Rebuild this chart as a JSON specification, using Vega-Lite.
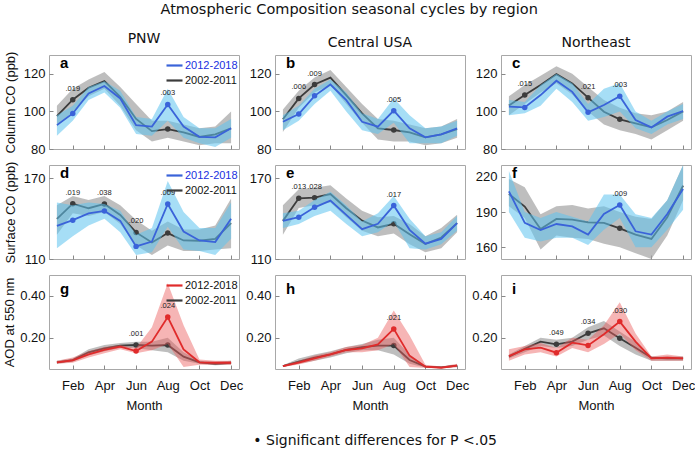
{
  "$schema": "https://vega.github.io/schema/vega-lite/v6.json",
  "padding": {"left": 3, "top": 2, "right": 0, "bottom": 0},
  "title": {"text": "Atmospheric Composition seasonal cycles by region", "font": "DejaVu Sans", "fontSize": 14.5, "fontWeight": "normal", "anchor": "middle", "offset": 14, "color": "#111"},
  "datasets": {
    "d": [
      {"g":"a","m":1,"ov":97.5,"ol":92,"oh":103,"nv":92.7,"nl":87,"nh":98},
      {"g":"a","m":2,"ov":106.2,"ol":100,"oh":112,"nv":98.9,"nl":95,"nh":103,"p":".019"},
      {"g":"a","m":3,"ov":112.6,"ol":108,"oh":117,"nv":109.6,"nl":106,"nh":113},
      {"g":"a","m":4,"ov":116.1,"ol":112,"oh":121,"nv":113.5,"nl":110,"nh":116},
      {"g":"a","m":5,"ov":107.8,"ol":103,"oh":113,"nv":106.9,"nl":102,"nh":111},
      {"g":"a","m":6,"ov":96,"ol":90,"oh":104,"nv":92.7,"nl":88,"nh":97},
      {"g":"a","m":7,"ov":89.5,"ol":84,"oh":95,"nv":91.9,"nl":87,"nh":96},
      {"g":"a","m":8,"ov":90.6,"ol":86,"oh":95,"nv":103.7,"nl":95,"nh":112,"p":".003"},
      {"g":"a","m":9,"ov":88.8,"ol":84,"oh":93,"nv":91.9,"nl":86,"nh":97},
      {"g":"a","m":10,"ov":86.4,"ol":82,"oh":91,"nv":86.5,"nl":83,"nh":91},
      {"g":"a","m":11,"ov":87.8,"ol":83,"oh":92,"nv":86.2,"nl":81,"nh":91},
      {"g":"a","m":12,"ov":91,"ol":83,"oh":100,"nv":91,"nl":86,"nh":96},
      {"g":"b","m":1,"ov":95.8,"ol":89,"oh":101,"nv":94.5,"nl":90,"nh":98},
      {"g":"b","m":2,"ov":106.9,"ol":102,"oh":111,"nv":98.6,"nl":95,"nh":103,"p":".006"},
      {"g":"b","m":3,"ov":114.3,"ol":110,"oh":118,"nv":108.3,"nl":104,"nh":112,"p":".009"},
      {"g":"b","m":4,"ov":118,"ol":114,"oh":122,"nv":114.3,"nl":111,"nh":117},
      {"g":"b","m":5,"ov":108.7,"ol":104,"oh":113,"nv":106,"nl":100,"nh":110},
      {"g":"b","m":6,"ov":99,"ol":94,"oh":104,"nv":94.5,"nl":90,"nh":99},
      {"g":"b","m":7,"ov":91,"ol":85,"oh":96,"nv":91.9,"nl":88,"nh":96},
      {"g":"b","m":8,"ov":90.1,"ol":84,"oh":95,"nv":100.4,"nl":94,"nh":107,"p":".005"},
      {"g":"b","m":9,"ov":88.8,"ol":84,"oh":93,"nv":91,"nl":83,"nh":98},
      {"g":"b","m":10,"ov":86.2,"ol":82,"oh":91,"nv":86.2,"nl":83,"nh":91},
      {"g":"b","m":11,"ov":87.8,"ol":83,"oh":92,"nv":87.8,"nl":83,"nh":92},
      {"g":"b","m":12,"ov":90.6,"ol":86,"oh":96,"nv":91,"nl":87,"nh":95},
      {"g":"c","m":1,"ov":103.2,"ol":98,"oh":108,"nv":102.5,"nl":98,"nh":106},
      {"g":"c","m":2,"ov":108.7,"ol":104,"oh":114,"nv":102.1,"nl":99,"nh":105,"p":".015"},
      {"g":"c","m":3,"ov":114,"ol":110,"oh":119,"nv":108.7,"nl":103,"nh":114},
      {"g":"c","m":4,"ov":119.8,"ol":115,"oh":124,"nv":116.3,"nl":112,"nh":120},
      {"g":"c","m":5,"ov":114.9,"ol":109,"oh":120,"nv":110.4,"nl":105,"nh":115},
      {"g":"c","m":6,"ov":107.3,"ol":100,"oh":113,"nv":99.5,"nl":95,"nh":104,"p":".021"},
      {"g":"c","m":7,"ov":99.8,"ol":93,"oh":106,"nv":103.4,"nl":97,"nh":112},
      {"g":"c","m":8,"ov":95.8,"ol":90,"oh":102,"nv":108.1,"nl":100,"nh":115,"p":".003"},
      {"g":"c","m":9,"ov":93.6,"ol":88,"oh":99,"nv":95.4,"nl":91,"nh":100},
      {"g":"c","m":10,"ov":91.5,"ol":85,"oh":98,"nv":91.5,"nl":88,"nh":95},
      {"g":"c","m":11,"ov":95.4,"ol":90,"oh":100,"nv":97.2,"nl":93,"nh":100},
      {"g":"c","m":12,"ov":100,"ol":95,"oh":105,"nv":100.2,"nl":96,"nh":104},
      {"g":"d","m":1,"ov":139.9,"ol":128,"oh":150,"nv":134.7,"nl":118,"nh":152},
      {"g":"d","m":2,"ov":151.2,"ol":144,"oh":157,"nv":138.9,"nl":127,"nh":150,"p":".019"},
      {"g":"d","m":3,"ov":147.8,"ol":142,"oh":154,"nv":144,"nl":135,"nh":152},
      {"g":"d","m":4,"ov":151,"ol":145,"oh":157,"nv":145.8,"nl":140,"nh":151,"p":".038"},
      {"g":"d","m":5,"ov":142.8,"ol":136,"oh":150,"nv":138.4,"nl":130,"nh":146},
      {"g":"d","m":6,"ov":129.8,"ol":120,"oh":139,"nv":119.4,"nl":113,"nh":128,"p":".020"},
      {"g":"d","m":7,"ov":122.3,"ol":113,"oh":131,"nv":123,"nl":115,"nh":133},
      {"g":"d","m":8,"ov":129.3,"ol":120,"oh":138,"nv":151,"nl":134,"nh":168,"p":".009"},
      {"g":"d","m":9,"ov":123.8,"ol":116,"oh":132,"nv":130.5,"nl":117,"nh":145},
      {"g":"d","m":10,"ov":123.6,"ol":116,"oh":132,"nv":123.8,"nl":116,"nh":133},
      {"g":"d","m":11,"ov":125,"ol":117,"oh":135,"nv":122.6,"nl":113,"nh":133},
      {"g":"d","m":12,"ov":136.7,"ol":118,"oh":155,"nv":139.9,"nl":125,"nh":152},
      {"g":"e","m":1,"ov":138.4,"ol":128,"oh":150,"nv":138.4,"nl":133,"nh":144},
      {"g":"e","m":2,"ov":155.2,"ol":148,"oh":162,"nv":141.1,"nl":136,"nh":146,"p":".013"},
      {"g":"e","m":3,"ov":155.7,"ol":150,"oh":163,"nv":148.5,"nl":142,"nh":154,"p":".028"},
      {"g":"e","m":4,"ov":158.4,"ol":152,"oh":165,"nv":153.5,"nl":146,"nh":160},
      {"g":"e","m":5,"ov":147.8,"ol":141,"oh":155,"nv":142.8,"nl":136,"nh":150},
      {"g":"e","m":6,"ov":138.6,"ol":131,"oh":146,"nv":132.2,"nl":127,"nh":138},
      {"g":"e","m":7,"ov":133.5,"ol":127,"oh":141,"nv":136.2,"nl":130,"nh":144},
      {"g":"e","m":8,"ov":136.2,"ol":129,"oh":142,"nv":149.8,"nl":138,"nh":157,"p":".017"},
      {"g":"e","m":9,"ov":128.5,"ol":121,"oh":136,"nv":131.7,"nl":118,"nh":140},
      {"g":"e","m":10,"ov":121.1,"ol":115,"oh":127,"nv":121.4,"nl":117,"nh":127},
      {"g":"e","m":11,"ov":126,"ol":118,"oh":133,"nv":125,"nl":121,"nh":130},
      {"g":"e","m":12,"ov":136.7,"ol":130,"oh":143,"nv":136.7,"nl":131,"nh":142},
      {"g":"f","m":1,"ov":205.3,"ol":195,"oh":218,"nv":207.6,"nl":190,"nh":225},
      {"g":"f","m":2,"ov":194.6,"ol":185,"oh":211,"nv":180.7,"nl":168,"nh":190},
      {"g":"f","m":3,"ov":175.6,"ol":158,"oh":188,"nv":174.7,"nl":165,"nh":185},
      {"g":"f","m":4,"ov":184.1,"ol":170,"oh":195,"nv":179.8,"nl":168,"nh":190},
      {"g":"f","m":5,"ov":183.5,"ol":168,"oh":196,"nv":177.8,"nl":168,"nh":186},
      {"g":"f","m":6,"ov":181.2,"ol":167,"oh":193,"nv":170.8,"nl":162,"nh":182},
      {"g":"f","m":7,"ov":180.7,"ol":163,"oh":195,"nv":188.3,"nl":175,"nh":205},
      {"g":"f","m":8,"ov":176.1,"ol":160,"oh":190,"nv":196,"nl":185,"nh":205,"p":".009"},
      {"g":"f","m":9,"ov":170.8,"ol":155,"oh":186,"nv":173.6,"nl":160,"nh":188},
      {"g":"f","m":10,"ov":167.1,"ol":150,"oh":184,"nv":170.8,"nl":160,"nh":185},
      {"g":"f","m":11,"ov":185.5,"ol":170,"oh":200,"nv":188.3,"nl":175,"nh":200},
      {"g":"f","m":12,"ov":212.4,"ol":200,"oh":230,"nv":209.6,"nl":192,"nh":230},
      {"g":"g","m":1,"ov":0.082,"ol":0.075,"oh":0.09,"nv":0.082,"nl":0.075,"nh":0.09},
      {"g":"g","m":2,"ov":0.093,"ol":0.085,"oh":0.1,"nv":0.091,"nl":0.08,"nh":0.105},
      {"g":"g","m":3,"ov":0.13,"ol":0.115,"oh":0.145,"nv":0.12,"nl":0.105,"nh":0.135},
      {"g":"g","m":4,"ov":0.149,"ol":0.135,"oh":0.165,"nv":0.141,"nl":0.125,"nh":0.155},
      {"g":"g","m":5,"ov":0.162,"ol":0.15,"oh":0.175,"nv":0.157,"nl":0.145,"nh":0.165},
      {"g":"g","m":6,"ov":0.165,"ol":0.15,"oh":0.18,"nv":0.136,"nl":0.125,"nh":0.15,"p":".001"},
      {"g":"g","m":7,"ov":0.162,"ol":0.14,"oh":0.18,"nv":0.181,"nl":0.14,"nh":0.25},
      {"g":"g","m":8,"ov":0.165,"ol":0.13,"oh":0.2,"nv":0.299,"nl":0.17,"nh":0.46,"p":".024"},
      {"g":"g","m":9,"ov":0.109,"ol":0.09,"oh":0.13,"nv":0.144,"nl":0.06,"nh":0.26},
      {"g":"g","m":10,"ov":0.082,"ol":0.075,"oh":0.09,"nv":0.082,"nl":0.07,"nh":0.095},
      {"g":"g","m":11,"ov":0.075,"ol":0.068,"oh":0.085,"nv":0.08,"nl":0.07,"nh":0.09},
      {"g":"g","m":12,"ov":0.08,"ol":0.072,"oh":0.09,"nv":0.08,"nl":0.07,"nh":0.09},
      {"g":"h","m":1,"ov":0.064,"ol":0.06,"oh":0.068,"nv":0.064,"nl":0.06,"nh":0.068},
      {"g":"h","m":2,"ov":0.085,"ol":0.075,"oh":0.1,"nv":0.08,"nl":0.072,"nh":0.09},
      {"g":"h","m":3,"ov":0.104,"ol":0.09,"oh":0.12,"nv":0.101,"nl":0.09,"nh":0.115},
      {"g":"h","m":4,"ov":0.12,"ol":0.105,"oh":0.135,"nv":0.12,"nl":0.11,"nh":0.13},
      {"g":"h","m":5,"ov":0.141,"ol":0.125,"oh":0.155,"nv":0.141,"nl":0.13,"nh":0.155},
      {"g":"h","m":6,"ov":0.155,"ol":0.14,"oh":0.17,"nv":0.149,"nl":0.13,"nh":0.165},
      {"g":"h","m":7,"ov":0.162,"ol":0.14,"oh":0.19,"nv":0.168,"nl":0.14,"nh":0.2},
      {"g":"h","m":8,"ov":0.162,"ol":0.12,"oh":0.2,"nv":0.242,"nl":0.17,"nh":0.33,"p":".021"},
      {"g":"h","m":9,"ov":0.093,"ol":0.075,"oh":0.12,"nv":0.114,"nl":0.06,"nh":0.21},
      {"g":"h","m":10,"ov":0.061,"ol":0.057,"oh":0.067,"nv":0.061,"nl":0.055,"nh":0.07},
      {"g":"h","m":11,"ov":0.058,"ol":0.055,"oh":0.062,"nv":0.056,"nl":0.053,"nh":0.062},
      {"g":"h","m":12,"ov":0.066,"ol":0.06,"oh":0.072,"nv":0.066,"nl":0.058,"nh":0.075},
      {"g":"i","m":1,"ov":0.109,"ol":0.1,"oh":0.12,"nv":0.112,"nl":0.09,"nh":0.145},
      {"g":"i","m":2,"ov":0.147,"ol":0.13,"oh":0.16,"nv":0.144,"nl":0.12,"nh":0.16},
      {"g":"i","m":3,"ov":0.181,"ol":0.16,"oh":0.2,"nv":0.152,"nl":0.13,"nh":0.175},
      {"g":"i","m":4,"ov":0.168,"ol":0.15,"oh":0.19,"nv":0.128,"nl":0.11,"nh":0.15,"p":".049"},
      {"g":"i","m":5,"ov":0.181,"ol":0.16,"oh":0.2,"nv":0.176,"nl":0.15,"nh":0.2},
      {"g":"i","m":6,"ov":0.221,"ol":0.19,"oh":0.25,"nv":0.163,"nl":0.13,"nh":0.19,"p":".034"},
      {"g":"i","m":7,"ov":0.245,"ol":0.21,"oh":0.28,"nv":0.216,"nl":0.17,"nh":0.26},
      {"g":"i","m":8,"ov":0.197,"ol":0.16,"oh":0.23,"nv":0.277,"nl":0.22,"nh":0.37,"p":".030"},
      {"g":"i","m":9,"ov":0.152,"ol":0.12,"oh":0.18,"nv":0.181,"nl":0.14,"nh":0.22},
      {"g":"i","m":10,"ov":0.104,"ol":0.09,"oh":0.11,"nv":0.101,"nl":0.09,"nh":0.11},
      {"g":"i","m":11,"ov":0.101,"ol":0.09,"oh":0.11,"nv":0.104,"nl":0.09,"nh":0.12},
      {"g":"i","m":12,"ov":0.101,"ol":0.09,"oh":0.11,"nv":0.101,"nl":0.09,"nh":0.11}
    ]
  },
  "vconcat": [
    {
      "title": {"text": "• Significant differences for P <.05", "orient": "bottom", "anchor": "middle", "font": "DejaVu Sans", "fontSize": 14, "fontWeight": "normal", "offset": 21, "dx": 26, "color": "#111"},
      "columns": 3,
      "spacing": {"row": 16, "column": 36},
      "bounds": "flush",
      "resolve": {"scale": {"x": "independent", "y": "independent", "color": "independent"}, "axis": {"x": "independent", "y": "independent"}, "legend": {"color": "independent"}},
      "concat": [
        {
          "width": 190, "height": 94,
          "title": {"text": "PNW", "offset": 5},
          "data": {"name": "d"},
          "transform": [{"filter": "datum.g=='a'"}],
          "encoding": {"x": {"field": "m", "type": "quantitative", "scale": {"domain": [0.5, 12.5], "nice": false, "zero": false}, "axis": {"values": [2,4,6,8,10,12], "labels": false, "title": null}}},
          "layer": [
            {"mark": {"type": "area", "color": "#a3a3a3", "opacity": 0.7, "clip": true}, "encoding": {"y": {"field": "ol", "type": "quantitative", "scale": {"domain": [80, 130], "nice": false, "zero": false}, "axis": {"values": [80,100,120], "title": "Column CO (ppb)"}}, "y2": {"field": "oh"}}},
            {"mark": {"type": "line", "strokeWidth": 1.8, "clip": true}, "encoding": {"y": {"field": "ov", "type": "quantitative"}, "color": {"datum": "2002-2011", "type": "nominal", "scale": {"domain": ["2012-2018", "2002-2011"], "range": ["#3a63d9", "#3c3c3c"]}, "legend": {"labelColor": {"expr": "datum.label == '2012-2018' ? '#2030e0' : '#111111'"}}}}},
            {"transform": [{"filter": "datum.p"}], "mark": {"type": "circle", "size": 30, "color": "#3c3c3c", "opacity": 1}, "encoding": {"y": {"field": "ov", "type": "quantitative"}}},
            {"mark": {"type": "area", "color": "#5cc2ee", "opacity": 0.55, "clip": true}, "encoding": {"y": {"field": "nl", "type": "quantitative"}, "y2": {"field": "nh"}}},
            {"mark": {"type": "line", "strokeWidth": 1.8, "clip": true}, "encoding": {"y": {"field": "nv", "type": "quantitative"}, "color": {"datum": "2012-2018", "type": "nominal"}}},
            {"transform": [{"filter": "datum.p"}], "mark": {"type": "circle", "size": 30, "color": "#3a63d9", "opacity": 1}, "encoding": {"y": {"field": "nv", "type": "quantitative"}}},
            {"transform": [{"filter": "datum.p"}, {"fold": ["ov", "nv"]}, {"aggregate": [{"op": "max", "field": "value", "as": "top"}], "groupby": ["m", "p"]}], "mark": {"type": "text", "dy": -11, "fontSize": 7.5, "font": "Liberation Sans", "color": "#222"}, "encoding": {"y": {"field": "top", "type": "quantitative"}, "text": {"field": "p"}}},
            {"transform": [{"filter": "datum.m == 1"}], "mark": {"type": "text", "text": "a", "align": "left", "baseline": "alphabetic", "dx": 3, "dy": 13, "fontSize": 15, "fontWeight": "bold", "font": "Liberation Sans", "color": "#000"}, "encoding": {"x": {"field": "m", "type": "quantitative"}, "y": {"datum": 130}}}
          ]
        },
        {
          "width": 190, "height": 94,
          "title": {"text": "Central USA", "offset": 5},
          "data": {"name": "d"},
          "transform": [{"filter": "datum.g=='b'"}],
          "encoding": {"x": {"field": "m", "type": "quantitative", "scale": {"domain": [0.5, 12.5], "nice": false, "zero": false}, "axis": {"values": [2,4,6,8,10,12], "labels": false, "title": null}}},
          "layer": [
            {"mark": {"type": "area", "color": "#a3a3a3", "opacity": 0.7, "clip": true}, "encoding": {"y": {"field": "ol", "type": "quantitative", "scale": {"domain": [80, 130], "nice": false, "zero": false}, "axis": {"values": [80,100,120], "title": null}}, "y2": {"field": "oh"}}},
            {"mark": {"type": "line", "strokeWidth": 1.8, "clip": true}, "encoding": {"y": {"field": "ov", "type": "quantitative"}, "color": {"datum": "2002-2011", "type": "nominal", "scale": {"domain": ["2012-2018", "2002-2011"], "range": ["#3a63d9", "#3c3c3c"]}, "legend": null}}},
            {"transform": [{"filter": "datum.p"}], "mark": {"type": "circle", "size": 30, "color": "#3c3c3c", "opacity": 1}, "encoding": {"y": {"field": "ov", "type": "quantitative"}}},
            {"mark": {"type": "area", "color": "#5cc2ee", "opacity": 0.55, "clip": true}, "encoding": {"y": {"field": "nl", "type": "quantitative"}, "y2": {"field": "nh"}}},
            {"mark": {"type": "line", "strokeWidth": 1.8, "clip": true}, "encoding": {"y": {"field": "nv", "type": "quantitative"}, "color": {"datum": "2012-2018", "type": "nominal", "legend": null}}},
            {"transform": [{"filter": "datum.p"}], "mark": {"type": "circle", "size": 30, "color": "#3a63d9", "opacity": 1}, "encoding": {"y": {"field": "nv", "type": "quantitative"}}},
            {"transform": [{"filter": "datum.p"}, {"fold": ["ov", "nv"]}, {"aggregate": [{"op": "max", "field": "value", "as": "top"}], "groupby": ["m", "p"]}], "mark": {"type": "text", "dy": -11, "fontSize": 7.5, "font": "Liberation Sans", "color": "#222"}, "encoding": {"y": {"field": "top", "type": "quantitative"}, "text": {"field": "p"}}},
            {"transform": [{"filter": "datum.m == 1"}], "mark": {"type": "text", "text": "b", "align": "left", "baseline": "alphabetic", "dx": 3, "dy": 13, "fontSize": 15, "fontWeight": "bold", "font": "Liberation Sans", "color": "#000"}, "encoding": {"x": {"field": "m", "type": "quantitative"}, "y": {"datum": 130}}}
          ]
        },
        {
          "width": 190, "height": 94,
          "title": {"text": "Northeast", "offset": 5},
          "data": {"name": "d"},
          "transform": [{"filter": "datum.g=='c'"}],
          "encoding": {"x": {"field": "m", "type": "quantitative", "scale": {"domain": [0.5, 12.5], "nice": false, "zero": false}, "axis": {"values": [2,4,6,8,10,12], "labels": false, "title": null}}},
          "layer": [
            {"mark": {"type": "area", "color": "#a3a3a3", "opacity": 0.7, "clip": true}, "encoding": {"y": {"field": "ol", "type": "quantitative", "scale": {"domain": [80, 130], "nice": false, "zero": false}, "axis": {"values": [80,100,120], "title": null}}, "y2": {"field": "oh"}}},
            {"mark": {"type": "line", "strokeWidth": 1.8, "clip": true}, "encoding": {"y": {"field": "ov", "type": "quantitative"}, "color": {"datum": "2002-2011", "type": "nominal", "scale": {"domain": ["2012-2018", "2002-2011"], "range": ["#3a63d9", "#3c3c3c"]}, "legend": null}}},
            {"transform": [{"filter": "datum.p"}], "mark": {"type": "circle", "size": 30, "color": "#3c3c3c", "opacity": 1}, "encoding": {"y": {"field": "ov", "type": "quantitative"}}},
            {"mark": {"type": "area", "color": "#5cc2ee", "opacity": 0.55, "clip": true}, "encoding": {"y": {"field": "nl", "type": "quantitative"}, "y2": {"field": "nh"}}},
            {"mark": {"type": "line", "strokeWidth": 1.8, "clip": true}, "encoding": {"y": {"field": "nv", "type": "quantitative"}, "color": {"datum": "2012-2018", "type": "nominal", "legend": null}}},
            {"transform": [{"filter": "datum.p"}], "mark": {"type": "circle", "size": 30, "color": "#3a63d9", "opacity": 1}, "encoding": {"y": {"field": "nv", "type": "quantitative"}}},
            {"transform": [{"filter": "datum.p"}, {"fold": ["ov", "nv"]}, {"aggregate": [{"op": "max", "field": "value", "as": "top"}], "groupby": ["m", "p"]}], "mark": {"type": "text", "dy": -11, "fontSize": 7.5, "font": "Liberation Sans", "color": "#222"}, "encoding": {"y": {"field": "top", "type": "quantitative"}, "text": {"field": "p"}}},
            {"transform": [{"filter": "datum.m == 1"}], "mark": {"type": "text", "text": "c", "align": "left", "baseline": "alphabetic", "dx": 3, "dy": 13, "fontSize": 15, "fontWeight": "bold", "font": "Liberation Sans", "color": "#000"}, "encoding": {"x": {"field": "m", "type": "quantitative"}, "y": {"datum": 130}}}
          ]
        },
        {
          "width": 190, "height": 94,
          "data": {"name": "d"},
          "transform": [{"filter": "datum.g=='d'"}],
          "encoding": {"x": {"field": "m", "type": "quantitative", "scale": {"domain": [0.5, 12.5], "nice": false, "zero": false}, "axis": {"values": [2,4,6,8,10,12], "labels": false, "title": null}}},
          "layer": [
            {"mark": {"type": "area", "color": "#a3a3a3", "opacity": 0.7, "clip": true}, "encoding": {"y": {"field": "ol", "type": "quantitative", "scale": {"domain": [110, 180], "nice": false, "zero": false}, "axis": {"values": [110,130,150,170], "title": "Surface CO (ppb)"}}, "y2": {"field": "oh"}}},
            {"mark": {"type": "line", "strokeWidth": 1.8, "clip": true}, "encoding": {"y": {"field": "ov", "type": "quantitative"}, "color": {"datum": "2002-2011", "type": "nominal", "scale": {"domain": ["2012-2018", "2002-2011"], "range": ["#3a63d9", "#3c3c3c"]}, "legend": {"labelColor": {"expr": "datum.label == '2012-2018' ? '#2030e0' : '#111111'"}}}}},
            {"transform": [{"filter": "datum.p"}], "mark": {"type": "circle", "size": 30, "color": "#3c3c3c", "opacity": 1}, "encoding": {"y": {"field": "ov", "type": "quantitative"}}},
            {"mark": {"type": "area", "color": "#5cc2ee", "opacity": 0.55, "clip": true}, "encoding": {"y": {"field": "nl", "type": "quantitative"}, "y2": {"field": "nh"}}},
            {"mark": {"type": "line", "strokeWidth": 1.8, "clip": true}, "encoding": {"y": {"field": "nv", "type": "quantitative"}, "color": {"datum": "2012-2018", "type": "nominal"}}},
            {"transform": [{"filter": "datum.p"}], "mark": {"type": "circle", "size": 30, "color": "#3a63d9", "opacity": 1}, "encoding": {"y": {"field": "nv", "type": "quantitative"}}},
            {"transform": [{"filter": "datum.p"}, {"fold": ["ov", "nv"]}, {"aggregate": [{"op": "max", "field": "value", "as": "top"}], "groupby": ["m", "p"]}], "mark": {"type": "text", "dy": -11, "fontSize": 7.5, "font": "Liberation Sans", "color": "#222"}, "encoding": {"y": {"field": "top", "type": "quantitative"}, "text": {"field": "p"}}},
            {"transform": [{"filter": "datum.m == 1"}], "mark": {"type": "text", "text": "d", "align": "left", "baseline": "alphabetic", "dx": 3, "dy": 13, "fontSize": 15, "fontWeight": "bold", "font": "Liberation Sans", "color": "#000"}, "encoding": {"x": {"field": "m", "type": "quantitative"}, "y": {"datum": 180}}}
          ]
        },
        {
          "width": 190, "height": 94,
          "data": {"name": "d"},
          "transform": [{"filter": "datum.g=='e'"}],
          "encoding": {"x": {"field": "m", "type": "quantitative", "scale": {"domain": [0.5, 12.5], "nice": false, "zero": false}, "axis": {"values": [2,4,6,8,10,12], "labels": false, "title": null}}},
          "layer": [
            {"mark": {"type": "area", "color": "#a3a3a3", "opacity": 0.7, "clip": true}, "encoding": {"y": {"field": "ol", "type": "quantitative", "scale": {"domain": [110, 180], "nice": false, "zero": false}, "axis": {"values": [110,130,150,170], "title": null}}, "y2": {"field": "oh"}}},
            {"mark": {"type": "line", "strokeWidth": 1.8, "clip": true}, "encoding": {"y": {"field": "ov", "type": "quantitative"}, "color": {"datum": "2002-2011", "type": "nominal", "scale": {"domain": ["2012-2018", "2002-2011"], "range": ["#3a63d9", "#3c3c3c"]}, "legend": null}}},
            {"transform": [{"filter": "datum.p"}], "mark": {"type": "circle", "size": 30, "color": "#3c3c3c", "opacity": 1}, "encoding": {"y": {"field": "ov", "type": "quantitative"}}},
            {"mark": {"type": "area", "color": "#5cc2ee", "opacity": 0.55, "clip": true}, "encoding": {"y": {"field": "nl", "type": "quantitative"}, "y2": {"field": "nh"}}},
            {"mark": {"type": "line", "strokeWidth": 1.8, "clip": true}, "encoding": {"y": {"field": "nv", "type": "quantitative"}, "color": {"datum": "2012-2018", "type": "nominal", "legend": null}}},
            {"transform": [{"filter": "datum.p"}], "mark": {"type": "circle", "size": 30, "color": "#3a63d9", "opacity": 1}, "encoding": {"y": {"field": "nv", "type": "quantitative"}}},
            {"transform": [{"filter": "datum.p"}, {"fold": ["ov", "nv"]}, {"aggregate": [{"op": "max", "field": "value", "as": "top"}], "groupby": ["m", "p"]}], "mark": {"type": "text", "dy": -11, "fontSize": 7.5, "font": "Liberation Sans", "color": "#222"}, "encoding": {"y": {"field": "top", "type": "quantitative"}, "text": {"field": "p"}}},
            {"transform": [{"filter": "datum.m == 1"}], "mark": {"type": "text", "text": "e", "align": "left", "baseline": "alphabetic", "dx": 3, "dy": 13, "fontSize": 15, "fontWeight": "bold", "font": "Liberation Sans", "color": "#000"}, "encoding": {"x": {"field": "m", "type": "quantitative"}, "y": {"datum": 180}}}
          ]
        },
        {
          "width": 190, "height": 94,
          "data": {"name": "d"},
          "transform": [{"filter": "datum.g=='f'"}],
          "encoding": {"x": {"field": "m", "type": "quantitative", "scale": {"domain": [0.5, 12.5], "nice": false, "zero": false}, "axis": {"values": [2,4,6,8,10,12], "labels": false, "title": null}}},
          "layer": [
            {"mark": {"type": "area", "color": "#a3a3a3", "opacity": 0.7, "clip": true}, "encoding": {"y": {"field": "ol", "type": "quantitative", "scale": {"domain": [150, 230], "nice": false, "zero": false}, "axis": {"values": [160,190,220], "title": null}}, "y2": {"field": "oh"}}},
            {"mark": {"type": "line", "strokeWidth": 1.8, "clip": true}, "encoding": {"y": {"field": "ov", "type": "quantitative"}, "color": {"datum": "2002-2011", "type": "nominal", "scale": {"domain": ["2012-2018", "2002-2011"], "range": ["#3a63d9", "#3c3c3c"]}, "legend": null}}},
            {"transform": [{"filter": "datum.p"}], "mark": {"type": "circle", "size": 30, "color": "#3c3c3c", "opacity": 1}, "encoding": {"y": {"field": "ov", "type": "quantitative"}}},
            {"mark": {"type": "area", "color": "#5cc2ee", "opacity": 0.55, "clip": true}, "encoding": {"y": {"field": "nl", "type": "quantitative"}, "y2": {"field": "nh"}}},
            {"mark": {"type": "line", "strokeWidth": 1.8, "clip": true}, "encoding": {"y": {"field": "nv", "type": "quantitative"}, "color": {"datum": "2012-2018", "type": "nominal", "legend": null}}},
            {"transform": [{"filter": "datum.p"}], "mark": {"type": "circle", "size": 30, "color": "#3a63d9", "opacity": 1}, "encoding": {"y": {"field": "nv", "type": "quantitative"}}},
            {"transform": [{"filter": "datum.p"}, {"fold": ["ov", "nv"]}, {"aggregate": [{"op": "max", "field": "value", "as": "top"}], "groupby": ["m", "p"]}], "mark": {"type": "text", "dy": -11, "fontSize": 7.5, "font": "Liberation Sans", "color": "#222"}, "encoding": {"y": {"field": "top", "type": "quantitative"}, "text": {"field": "p"}}},
            {"transform": [{"filter": "datum.m == 1"}], "mark": {"type": "text", "text": "f", "align": "left", "baseline": "alphabetic", "dx": 3, "dy": 13, "fontSize": 15, "fontWeight": "bold", "font": "Liberation Sans", "color": "#000"}, "encoding": {"x": {"field": "m", "type": "quantitative"}, "y": {"datum": 230}}}
          ]
        },
        {
          "width": 190, "height": 94,
          "data": {"name": "d"},
          "transform": [{"filter": "datum.g=='g'"}],
          "encoding": {"x": {"field": "m", "type": "quantitative", "scale": {"domain": [0.5, 12.5], "nice": false, "zero": false}, "axis": {"values": [2,4,6,8,10,12], "title": "Month"}}},
          "layer": [
            {"mark": {"type": "area", "color": "#a3a3a3", "opacity": 0.7, "clip": true}, "encoding": {"y": {"field": "ol", "type": "quantitative", "scale": {"domain": [0.05, 0.5], "nice": false, "zero": false}, "axis": {"values": [0.2, 0.4], "format": ".2f", "title": "AOD at 550 nm", "titlePadding": 3}}, "y2": {"field": "oh"}}},
            {"mark": {"type": "line", "strokeWidth": 1.8, "clip": true}, "encoding": {"y": {"field": "ov", "type": "quantitative"}, "color": {"datum": "2002-2011", "type": "nominal", "scale": {"domain": ["2012-2018", "2002-2011"], "range": ["#e02b2b", "#3c3c3c"]}, "legend": {}}}},
            {"transform": [{"filter": "datum.p"}], "mark": {"type": "circle", "size": 30, "color": "#3c3c3c", "opacity": 1}, "encoding": {"y": {"field": "ov", "type": "quantitative"}}},
            {"mark": {"type": "area", "color": "#ec5b5b", "opacity": 0.45, "clip": true}, "encoding": {"y": {"field": "nl", "type": "quantitative"}, "y2": {"field": "nh"}}},
            {"mark": {"type": "line", "strokeWidth": 1.8, "clip": true}, "encoding": {"y": {"field": "nv", "type": "quantitative"}, "color": {"datum": "2012-2018", "type": "nominal"}}},
            {"transform": [{"filter": "datum.p"}], "mark": {"type": "circle", "size": 30, "color": "#e02b2b", "opacity": 1}, "encoding": {"y": {"field": "nv", "type": "quantitative"}}},
            {"transform": [{"filter": "datum.p"}, {"fold": ["ov", "nv"]}, {"aggregate": [{"op": "max", "field": "value", "as": "top"}], "groupby": ["m", "p"]}], "mark": {"type": "text", "dy": -11, "fontSize": 7.5, "font": "Liberation Sans", "color": "#222"}, "encoding": {"y": {"field": "top", "type": "quantitative"}, "text": {"field": "p"}}},
            {"transform": [{"filter": "datum.m == 1"}], "mark": {"type": "text", "text": "g", "align": "left", "baseline": "alphabetic", "dx": 3, "dy": 19, "fontSize": 15, "fontWeight": "bold", "font": "Liberation Sans", "color": "#000"}, "encoding": {"x": {"field": "m", "type": "quantitative"}, "y": {"datum": 0.5}}}
          ]
        },
        {
          "width": 190, "height": 94,
          "data": {"name": "d"},
          "transform": [{"filter": "datum.g=='h'"}],
          "encoding": {"x": {"field": "m", "type": "quantitative", "scale": {"domain": [0.5, 12.5], "nice": false, "zero": false}, "axis": {"values": [2,4,6,8,10,12], "title": "Month"}}},
          "layer": [
            {"mark": {"type": "area", "color": "#a3a3a3", "opacity": 0.7, "clip": true}, "encoding": {"y": {"field": "ol", "type": "quantitative", "scale": {"domain": [0.05, 0.5], "nice": false, "zero": false}, "axis": {"values": [0.2, 0.4], "format": ".2f", "title": null}}, "y2": {"field": "oh"}}},
            {"mark": {"type": "line", "strokeWidth": 1.8, "clip": true}, "encoding": {"y": {"field": "ov", "type": "quantitative"}, "color": {"datum": "2002-2011", "type": "nominal", "scale": {"domain": ["2012-2018", "2002-2011"], "range": ["#e02b2b", "#3c3c3c"]}, "legend": null}}},
            {"transform": [{"filter": "datum.p"}], "mark": {"type": "circle", "size": 30, "color": "#3c3c3c", "opacity": 1}, "encoding": {"y": {"field": "ov", "type": "quantitative"}}},
            {"mark": {"type": "area", "color": "#ec5b5b", "opacity": 0.45, "clip": true}, "encoding": {"y": {"field": "nl", "type": "quantitative"}, "y2": {"field": "nh"}}},
            {"mark": {"type": "line", "strokeWidth": 1.8, "clip": true}, "encoding": {"y": {"field": "nv", "type": "quantitative"}, "color": {"datum": "2012-2018", "type": "nominal", "legend": null}}},
            {"transform": [{"filter": "datum.p"}], "mark": {"type": "circle", "size": 30, "color": "#e02b2b", "opacity": 1}, "encoding": {"y": {"field": "nv", "type": "quantitative"}}},
            {"transform": [{"filter": "datum.p"}, {"fold": ["ov", "nv"]}, {"aggregate": [{"op": "max", "field": "value", "as": "top"}], "groupby": ["m", "p"]}], "mark": {"type": "text", "dy": -11, "fontSize": 7.5, "font": "Liberation Sans", "color": "#222"}, "encoding": {"y": {"field": "top", "type": "quantitative"}, "text": {"field": "p"}}},
            {"transform": [{"filter": "datum.m == 1"}], "mark": {"type": "text", "text": "h", "align": "left", "baseline": "alphabetic", "dx": 3, "dy": 19, "fontSize": 15, "fontWeight": "bold", "font": "Liberation Sans", "color": "#000"}, "encoding": {"x": {"field": "m", "type": "quantitative"}, "y": {"datum": 0.5}}}
          ]
        },
        {
          "width": 190, "height": 94,
          "data": {"name": "d"},
          "transform": [{"filter": "datum.g=='i'"}],
          "encoding": {"x": {"field": "m", "type": "quantitative", "scale": {"domain": [0.5, 12.5], "nice": false, "zero": false}, "axis": {"values": [2,4,6,8,10,12], "title": "Month"}}},
          "layer": [
            {"mark": {"type": "area", "color": "#a3a3a3", "opacity": 0.7, "clip": true}, "encoding": {"y": {"field": "ol", "type": "quantitative", "scale": {"domain": [0.05, 0.5], "nice": false, "zero": false}, "axis": {"values": [0.2, 0.4], "format": ".2f", "title": null}}, "y2": {"field": "oh"}}},
            {"mark": {"type": "line", "strokeWidth": 1.8, "clip": true}, "encoding": {"y": {"field": "ov", "type": "quantitative"}, "color": {"datum": "2002-2011", "type": "nominal", "scale": {"domain": ["2012-2018", "2002-2011"], "range": ["#e02b2b", "#3c3c3c"]}, "legend": null}}},
            {"transform": [{"filter": "datum.p"}], "mark": {"type": "circle", "size": 30, "color": "#3c3c3c", "opacity": 1}, "encoding": {"y": {"field": "ov", "type": "quantitative"}}},
            {"mark": {"type": "area", "color": "#ec5b5b", "opacity": 0.45, "clip": true}, "encoding": {"y": {"field": "nl", "type": "quantitative"}, "y2": {"field": "nh"}}},
            {"mark": {"type": "line", "strokeWidth": 1.8, "clip": true}, "encoding": {"y": {"field": "nv", "type": "quantitative"}, "color": {"datum": "2012-2018", "type": "nominal", "legend": null}}},
            {"transform": [{"filter": "datum.p"}], "mark": {"type": "circle", "size": 30, "color": "#e02b2b", "opacity": 1}, "encoding": {"y": {"field": "nv", "type": "quantitative"}}},
            {"transform": [{"filter": "datum.p"}, {"fold": ["ov", "nv"]}, {"aggregate": [{"op": "max", "field": "value", "as": "top"}], "groupby": ["m", "p"]}], "mark": {"type": "text", "dy": -11, "fontSize": 7.5, "font": "Liberation Sans", "color": "#222"}, "encoding": {"y": {"field": "top", "type": "quantitative"}, "text": {"field": "p"}}},
            {"transform": [{"filter": "datum.m == 1"}], "mark": {"type": "text", "text": "i", "align": "left", "baseline": "alphabetic", "dx": 3, "dy": 19, "fontSize": 15, "fontWeight": "bold", "font": "Liberation Sans", "color": "#000"}, "encoding": {"x": {"field": "m", "type": "quantitative"}, "y": {"datum": 0.5}}}
          ]
        }
      ]
    }
  ],
  "config": {
    "view": {"stroke": "#a8a8a8", "strokeWidth": 1},
    "axis": {"domain": false, "grid": false, "ticks": true, "tickSize": -4, "tickColor": "#888", "labelFont": "Liberation Sans", "labelFontSize": 13, "labelColor": "#111", "titleFont": "Liberation Sans", "titleFontSize": 13, "titleFontWeight": "normal", "titleColor": "#111"},
    "axisX": {"labelPadding": 14, "titlePadding": 7, "labelExpr": "['Jan','Feb','Mar','Apr','May','Jun','Jul','Aug','Sep','Oct','Nov','Dec'][datum.value-1]"},
    "axisY": {"labelPadding": 8, "titlePadding": 6},
    "title": {"font": "DejaVu Sans", "fontSize": 14, "fontWeight": "normal", "color": "#111"},
    "legend": {"orient": "top-right", "offset": 1, "padding": 0, "title": null, "symbolType": "stroke", "symbolSize": 256, "symbolStrokeWidth": 2.2, "labelFont": "Liberation Sans", "labelFontSize": 11, "labelOffset": 1, "rowPadding": 0, "labelColor": "#111"}
  }
}
